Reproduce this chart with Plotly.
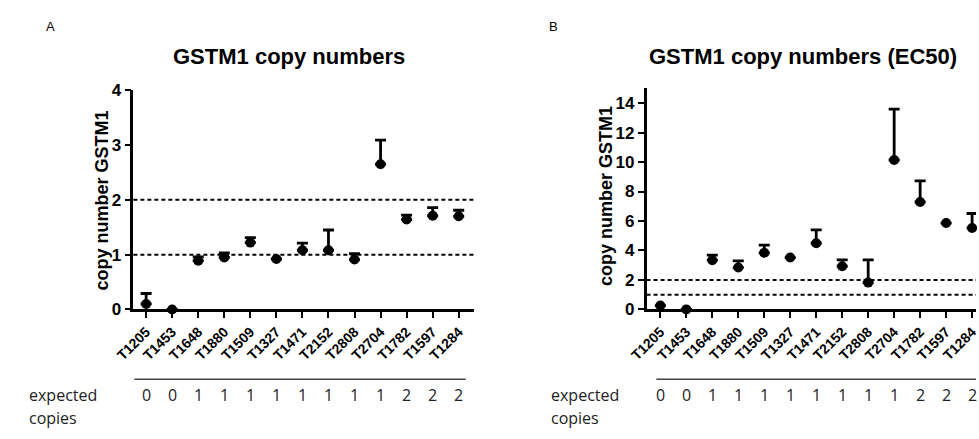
import plotly.graph_objects as go

samples = ["T1205", "T1453", "T1648", "T1880", "T1509", "T1327", "T1471",
           "T2152", "T2808", "T2704", "T1782", "T1597", "T1284"]
expected_copies = [0, 0, 1, 1, 1, 1, 1, 1, 1, 1, 2, 2, 2]

copies_a = [0.10, 0.0, 0.89, 0.95, 1.22, 0.92, 1.08, 1.08, 0.91, 2.65, 1.64, 1.71, 1.70]
err_a = [0.19, 0.0, 0.07, 0.08, 0.09, 0.0, 0.13, 0.37, 0.11, 0.44, 0.08, 0.15, 0.11]

copies_b = [0.26, 0.0, 3.34, 2.84, 3.84, 3.52, 4.49, 2.93, 1.82, 10.14, 7.29, 5.86, 5.53]
err_b = [0.0, 0.0, 0.35, 0.46, 0.52, 0.0, 0.91, 0.43, 1.54, 3.45, 1.43, 0.0, 0.98]

ref_lines = [1, 2]

W, H = 979, 439
def px(x):
    return x / W
def py(y):
    return 1 - y / H

FONT = "Liberation Sans"
fig = go.Figure()

for vals, errs, xa, ya in [(copies_a, err_a, "x", "y"), (copies_b, err_b, "x2", "y2")]:
    fig.add_trace(go.Scatter(
        x=samples, y=vals, mode="markers",
        marker=dict(color="black", size=10, symbol="circle"),
        error_y=dict(type="data", symmetric=False, array=errs,
                     arrayminus=[0] * len(errs), color="black",
                     thickness=2.8, width=5.5),
        cliponaxis=False, xaxis=xa, yaxis=ya, showlegend=False))

axis_common = dict(showline=True, linecolor="black", linewidth=2.5,
                   ticks="outside", ticklen=6, tickwidth=2, tickcolor="black",
                   showgrid=False, zeroline=False)

xtick_font = dict(size=14, family=FONT, weight="bold", color="black")
ytick_font = dict(size=17, family=FONT, weight="bold", color="black")

fig.update_layout(
    width=W, height=H, margin=dict(l=0, r=0, t=0, b=0),
    paper_bgcolor="white", plot_bgcolor="white",
    font=dict(family=FONT, color="black"),
    xaxis=dict(domain=[px(117), px(465)], anchor="y", type="category",
               categoryorder="array", categoryarray=samples,
               range=[-0.49, 12.57], tickangle=-45,
               tickfont=xtick_font, **axis_common),
    yaxis=dict(domain=[py(314), py(85)], anchor="x", range=[0, 4],
               tickvals=[0, 1, 2, 3, 4], tickfont=ytick_font,
               **axis_common),
    xaxis2=dict(domain=[px(642), 1.0], anchor="y2", type="category",
                categoryorder="array", categoryarray=samples,
                range=[-0.53, 12.15], tickangle=-45,
                tickfont=xtick_font, **axis_common),
    yaxis2=dict(domain=[py(314), py(83)], anchor="x2", range=[0, 15],
                tickvals=[0, 2, 4, 6, 8, 10, 12, 14],
                tickfont=ytick_font, **axis_common),
)

# dashed reference lines
for xr, yr in [("x domain", "y"), ("x2 domain", "y2")]:
    for v in ref_lines:
        fig.add_shape(type="line", xref=xr, yref=yr, x0=0, x1=1, y0=v, y1=v,
                      line=dict(color="black", width=2, dash="4px,3px"))

# separator lines above expected copies
fig.add_shape(type="line", xref="paper", yref="paper", x0=px(118), x1=px(457),
              y0=py(387), y1=py(387), line=dict(color="#444", width=1.5))
fig.add_shape(type="line", xref="paper", yref="paper", x0=px(652), x1=1.0,
              y0=py(387), y1=py(387), line=dict(color="#444", width=1.5))

ann = []
# panel letters
ann.append(dict(text="A", x=px(32), y=py(18), xref="paper", yref="paper",
                showarrow=False, font=dict(size=13, family=FONT), xanchor="center", yanchor="middle"))
ann.append(dict(text="B", x=px(547), y=py(18), xref="paper", yref="paper",
                showarrow=False, font=dict(size=13, family=FONT), xanchor="center", yanchor="middle"))
# titles
ann.append(dict(text="GSTM1 copy numbers", x=px(276), y=py(50), xref="paper", yref="paper",
                showarrow=False, font=dict(size=22, family=FONT, weight="bold"),
                xanchor="center", yanchor="middle"))
ann.append(dict(text="GSTM1 copy numbers (EC50)", x=px(802), y=py(50), xref="paper", yref="paper",
                showarrow=False, font=dict(size=22, family=FONT, weight="bold"),
                xanchor="center", yanchor="middle"))
# y axis titles
ann.append(dict(text="copy number GSTM1", x=px(85), y=py(200), xref="paper", yref="paper",
                showarrow=False, textangle=-90, font=dict(size=18, family=FONT, weight="bold"),
                xanchor="center", yanchor="middle"))
ann.append(dict(text="copy number GSTM1", x=px(600), y=py(196), xref="paper", yref="paper",
                showarrow=False, textangle=-90, font=dict(size=18, family=FONT, weight="bold"),
                xanchor="center", yanchor="middle"))
# expected copies labels
EFONT = dict(size=16, family="Open Sans", color="#222")
for xl in [8, 542]:
    ann.append(dict(text="expected", x=px(xl), y=py(403), xref="paper", yref="paper",
                    showarrow=False, font=EFONT, xanchor="left", yanchor="middle"))
    ann.append(dict(text="copies", x=px(xl), y=py(428), xref="paper", yref="paper",
                    showarrow=False, font=EFONT, xanchor="left", yanchor="middle"))
for xr in ["x", "x2"]:
    for s, e in zip(samples, expected_copies):
        ann.append(dict(text=str(e), x=s, y=py(403), xref=xr, yref="paper",
                        showarrow=False, font=EFONT, xanchor="center", yanchor="middle"))

fig.update_layout(annotations=ann)
fig.write_html("out.html")
